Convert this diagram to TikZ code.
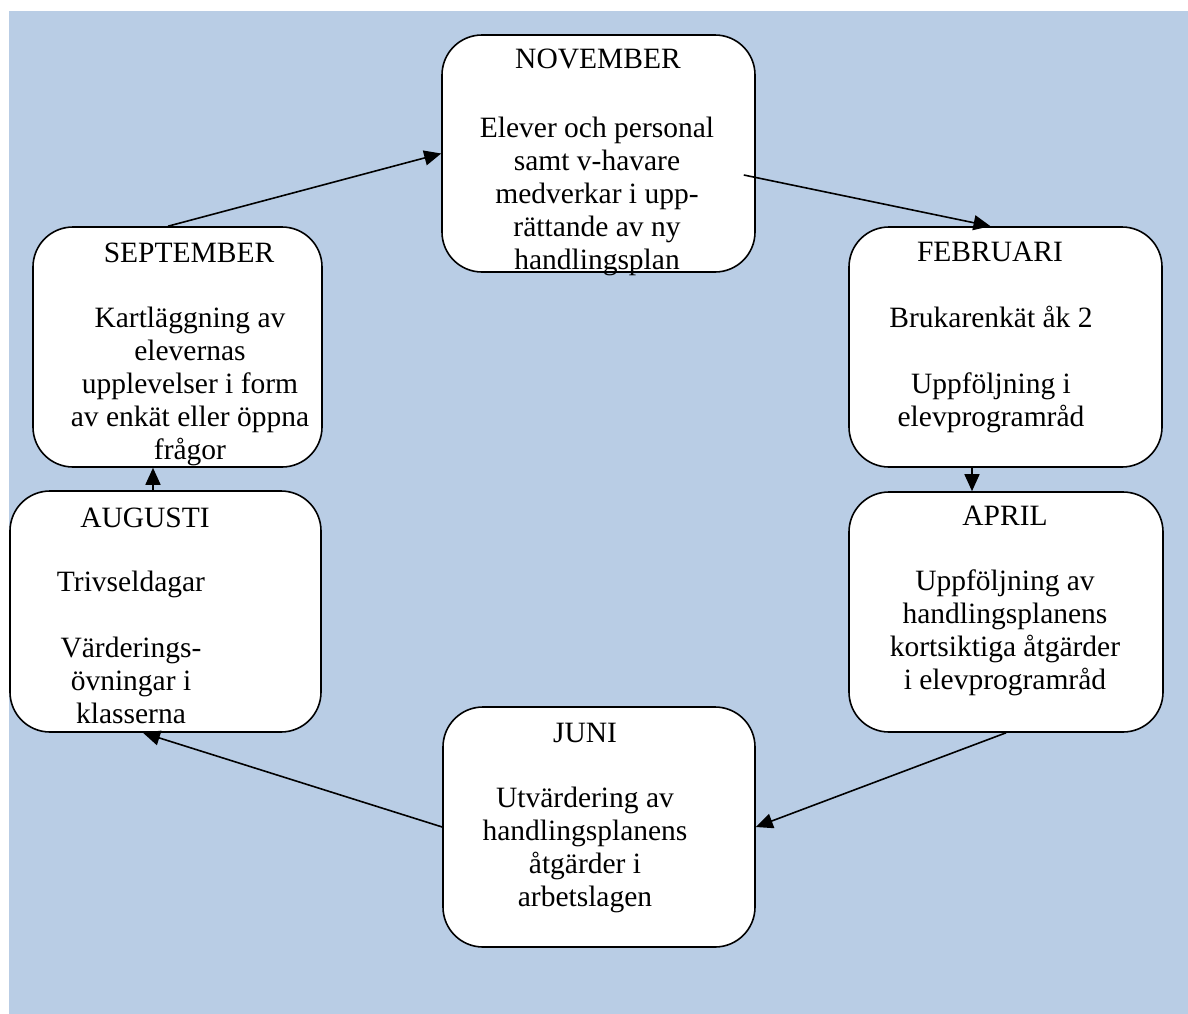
\documentclass[tikz,border=0pt]{standalone}
\usepackage{fontspec}
\setmainfont{Liberation Serif}
\usetikzlibrary{arrows.meta}
\definecolor{bgblue}{RGB}{185,205,229}
\newcommand{\blocktext}[1]{\parbox[t]{330bp}{\centering #1}}
\begin{document}
\begin{tikzpicture}[x=1bp,y=-1bp,
  monthbox/.style={draw=black, line width=1.6bp, fill=white, rounded corners=40bp,
    rectangle, inner sep=0pt},
  txt/.style={anchor=base, inner sep=0pt, font=\fontsize{29.5bp}{33bp}\selectfont},
  flow/.style={draw=black, line width=1.6bp, -{Triangle[length=17bp,width=15bp]}}]
\useasboundingbox (0,0) rectangle (1188,1014);
\fill[bgblue] (9,11) rectangle (1188,1014);

% boxes
\node[monthbox, minimum width=313bp, minimum height=237bp] (nov) at (598.5,153.5) {};
\node[monthbox, minimum width=289bp, minimum height=240bp] (sep) at (177.5,347) {};
\node[monthbox, minimum width=313bp, minimum height=240bp] (feb) at (1005.5,347) {};
\node[monthbox, minimum width=311bp, minimum height=241bp] (aug) at (165.5,611.5) {};
\node[monthbox, minimum width=314bp, minimum height=240bp] (apr) at (1006,612) {};
\node[monthbox, minimum width=312bp, minimum height=240bp] (jun) at (599,827) {};

% texts
\node[txt] (novT) at (598,68) {NOVEMBER};
\node[txt] (novB) at (597,137) {\blocktext{Elever och personal\\samt v-havare\\medverkar i upp-\\rättande av ny\\handlingsplan}};

\node[txt] (sepT) at (189,262) {SEPTEMBER};
\node[txt] (sepB) at (190,327) {\blocktext{Kartläggning av\\elevernas\\upplevelser i form\\av enkät eller öppna\\frågor}};

\node[txt] (febT) at (990,261) {FEBRUARI};
\node[txt] (febB) at (991,327) {\blocktext{Brukarenkät åk 2\\[33bp]Uppföljning i\\elevprogramråd}};

\node[txt] (augT) at (145,527) {AUGUSTI};
\node[txt] (augB) at (131,591) {\blocktext{Trivseldagar\\[33bp]Värderings-\\övningar i\\klasserna}};

\node[txt] (aprT) at (1005,525) {APRIL};
\node[txt] (aprB) at (1005,590) {\blocktext{Uppföljning av\\handlingsplanens\\kortsiktiga åtgärder\\i elevprogramråd}};

\node[txt] (junT) at (585,742) {JUNI};
\node[txt] (junB) at (585,807) {\blocktext{Utvärdering av\\handlingsplanens\\åtgärder i\\arbetslagen}};

% connectors
\draw[flow] ([xshift=-9.5bp]sep.north) -- (nov.west);
\draw[flow] ([xshift=-12bp,yshift=-21.5bp]nov.east) -- ([xshift=-15bp]feb.north);
\draw[flow] ([xshift=-33.5bp]feb.south) -- ([xshift=-34bp]apr.north);
\draw[flow] (apr.south) -- (jun.east);
\draw[flow] (jun.west) -- ([xshift=-22.5bp]aug.south);
\draw[flow] ([xshift=-12.5bp]aug.north) -- ([xshift=-24.5bp]sep.south);
\end{tikzpicture}
\end{document}
